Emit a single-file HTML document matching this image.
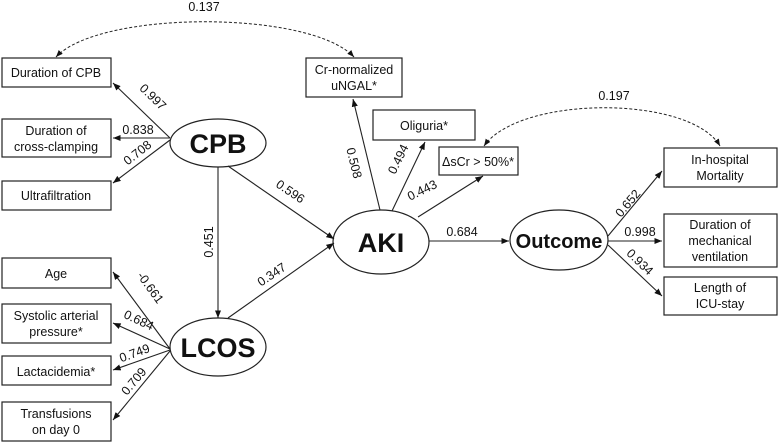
<!DOCTYPE html>
<html><head><style>html,body{margin:0;padding:0;background:#fff}svg{display:block}text{font-family:"Liberation Sans",Arial,sans-serif;fill:#111}</style></head><body>
<svg width="778" height="442" viewBox="0 0 778 442" xmlns="http://www.w3.org/2000/svg">
<defs><marker id="a" viewBox="0 0 10 10" refX="10" refY="5" markerWidth="7" markerHeight="7" orient="auto-start-reverse"><path d="M0,1 L10,5 L0,9 z" fill="#111"/></marker></defs>
<g fill="#fff" stroke="#222" stroke-width="1.2">
<rect x="2" y="58" width="109" height="29"/>
<rect x="2" y="119" width="109" height="38"/>
<rect x="2" y="181" width="109" height="29"/>
<rect x="2" y="258" width="109" height="30"/>
<rect x="2" y="304" width="109" height="39"/>
<rect x="2" y="356" width="109" height="29"/>
<rect x="2" y="402" width="109" height="39"/>
<rect x="306" y="58" width="96" height="39"/>
<rect x="373" y="110" width="102" height="30"/>
<rect x="439" y="147" width="79" height="28"/>
<rect x="664" y="148" width="113" height="39"/>
<rect x="664" y="214" width="113" height="53"/>
<rect x="664" y="277" width="113" height="38"/>
<ellipse cx="218" cy="143" rx="48" ry="24"/>
<ellipse cx="218" cy="347" rx="48" ry="29"/>
<ellipse cx="381" cy="242" rx="48" ry="32"/>
<ellipse cx="559" cy="240" rx="49" ry="30"/>
</g>
<g stroke="#222" stroke-width="1.1" fill="none" marker-end="url(#a)">
<line x1="170" y1="138" x2="113" y2="83"/>
<line x1="170" y1="138" x2="113" y2="138"/>
<line x1="170" y1="140" x2="113" y2="183"/>
<line x1="170" y1="349" x2="113" y2="272"/>
<line x1="170" y1="349" x2="113" y2="323"/>
<line x1="170" y1="350" x2="113" y2="370"/>
<line x1="170" y1="351" x2="113" y2="420"/>
<line x1="218" y1="167" x2="218" y2="318"/>
<line x1="228" y1="166" x2="334" y2="239"/>
<line x1="228" y1="318" x2="334" y2="243"/>
<line x1="380" y1="210" x2="353" y2="99"/>
<line x1="392" y1="211" x2="425" y2="142"/>
<line x1="418" y1="217" x2="483" y2="176"/>
<line x1="429" y1="241" x2="509" y2="241"/>
<line x1="608" y1="236" x2="662" y2="171"/>
<line x1="608" y1="241" x2="662" y2="241"/>
<line x1="608" y1="245" x2="662" y2="296"/>
</g>
<g stroke="#222" stroke-width="1" fill="none" stroke-dasharray="3,2">
<path d="M56,57 C100,10 310,10 354,57" marker-end="url(#a)" marker-start="url(#a)"/>
<path d="M484,146 C520,95 690,95 720,146" marker-end="url(#a)" marker-start="url(#a)"/>
</g>
<g font-size="12.5" text-anchor="middle">
<text x="56" y="77">Duration of CPB</text>
<text x="56" y="135">Duration of</text><text x="56" y="151">cross-clamping</text>
<text x="56" y="200">Ultrafiltration</text>
<text x="56" y="278">Age</text>
<text x="56" y="320">Systolic arterial</text><text x="56" y="336">pressure*</text>
<text x="56" y="376">Lactacidemia*</text>
<text x="56" y="418">Transfusions</text><text x="56" y="434">on day 0</text>
<text x="354" y="74">Cr-normalized</text><text x="354" y="90">uNGAL*</text>
<text x="424" y="130">Oliguria*</text>
<text x="478" y="166">ΔsCr &gt; 50%*</text>
<text x="720" y="164">In-hospital</text><text x="720" y="180">Mortality</text>
<text x="720" y="229">Duration of</text><text x="720" y="245">mechanical</text><text x="720" y="261">ventilation</text>
<text x="720" y="292">Length of</text><text x="720" y="308">ICU-stay</text>
<text x="204" y="11">0.137</text>
<text x="614" y="100">0.197</text>
<text x="462" y="236">0.684</text>
<text x="640" y="236">0.998</text>
<text x="138" y="134">0.838</text>
</g>
<g font-size="12.5" text-anchor="middle">
<text transform="translate(150,100) rotate(44)">0.997</text>
<text transform="translate(140,156) rotate(-38)">0.708</text>
<text transform="translate(147,290) rotate(54)">-0.661</text>
<text transform="translate(137,324) rotate(25)">0.684</text>
<text transform="translate(136,357) rotate(-20)">0.749</text>
<text transform="translate(137,384) rotate(-50)">0.709</text>
<text transform="translate(213,242) rotate(-90)">0.451</text>
<text transform="translate(288,195) rotate(34)">0.596</text>
<text transform="translate(274,278) rotate(-34)">0.347</text>
<text transform="translate(350,164) rotate(76)">0.508</text>
<text transform="translate(402,161) rotate(-64)">0.494</text>
<text transform="translate(424,194) rotate(-26)">0.443</text>
<text transform="translate(631,206) rotate(-50)">0.652</text>
<text transform="translate(637,265) rotate(44)">0.934</text>
</g>
<g font-size="27" font-weight="bold" text-anchor="middle">
<text x="218" y="153">CPB</text>
<text x="218" y="357">LCOS</text>
<text x="381" y="252">AKI</text>
<text x="559" y="248" font-size="20">Outcome</text>
</g>
</svg>
</body></html>
